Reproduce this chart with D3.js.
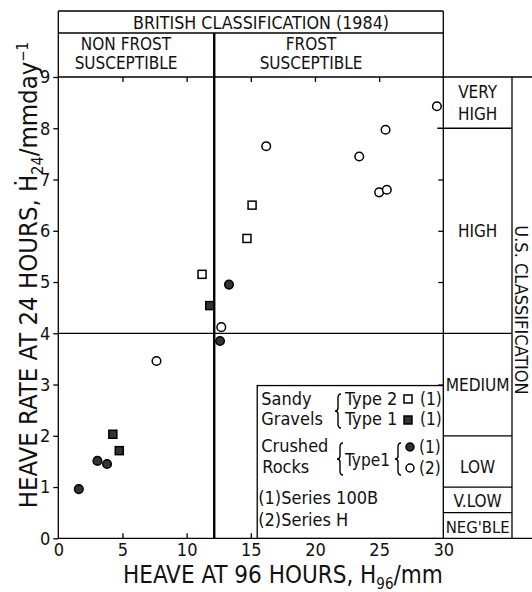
<!DOCTYPE html>
<html>
<head>
<meta charset="utf-8">
<script src="https://cdn.jsdelivr.net/npm/d3@7"></script>
<style>
  body { margin: 0; background: #fff; }
  svg text { font-family: "DejaVu Sans Condensed", "DejaVu Sans", sans-serif; font-stretch: condensed; fill: #111; }
</style>
</head>
<body>
<div id="chart"></div>
<script>
// chart size
var chart_width = 532;
var chart_height = 592;

// data: [heave at 96 h (mm), heave rate at 24 h (mm/day)]
var sandyType2 = [[11.2, 5.15], [14.7, 5.85], [15.1, 6.5]];
var sandyType1 = [[11.8, 4.54], [4.25, 2.03], [4.75, 1.71]];
var crushed100B = [[13.3, 4.95], [12.6, 3.85], [3.05, 1.51], [3.8, 1.45], [1.6, 0.96]];
var crushedH = [[12.7, 4.12], [7.65, 3.46], [16.2, 7.65], [23.45, 7.45], [25.5, 7.97], [29.5, 8.43], [25.0, 6.75], [25.6, 6.8]];

var xTicks = [0, 5, 10, 15, 20, 25, 30];
var yTicks = [0, 1, 2, 3, 4, 5, 6, 7, 8, 9];

// british classification boundary (heave at 96h) and frost limit (heave rate)
var britishLimit = 12.15;
var usBounds = [0, 0.5, 1, 2, 4, 8, 9];
var usLabels = [["NEG'BLE"], ["V.LOW"], ["LOW"], ["MEDIUM"], ["HIGH"], ["VERY", "HIGH"]];
var usLabelY = [0.22, 0.72, 1.4, 3.0, 6.0, 8.5];

var x = d3.scaleLinear().domain([0, 30]).range([58.3, 443.3]);
var y = d3.scaleLinear().domain([0, 9]).range([538.3, 77]);

var svg = d3.select("#chart").append("svg")
  .attr("width", chart_width)
  .attr("height", chart_height);

var headTop = 11, headMid = 33;
var colRight = 512;

function line(x1, y1, x2, y2, w) {
  svg.append("line")
    .attr("x1", x1).attr("y1", y1).attr("x2", x2).attr("y2", y2)
    .attr("stroke", "#000").attr("stroke-width", w || 1.3);
}

// frame
line(x(0), headTop, x(0), y(0));
line(x(30), headTop, x(30), y(0));
line(x(0), headTop, x(30), headTop);
line(x(0), headMid, x(30), headMid);
line(x(0), y(9), chart_width, y(9));
line(x(0), y(0), chart_width, y(0));
line(colRight, y(9), colRight, y(0));
line(x(0), y(4), colRight, y(4));
line(x(britishLimit), headMid, x(britishLimit), y(0), 2.4);

// US classification bands
usBounds.slice(1, -1).forEach(function(b) {
  if (b !== 4) line(x(30) - 6, y(b), colRight, y(b));
});

// axes
svg.append("g").attr("transform", "translate(" + x(0) + ",0)")
  .call(d3.axisLeft(y).tickValues(yTicks).tickSize(5).tickPadding(3))
  .call(function(g) { g.select(".domain").remove(); });

svg.append("g").attr("transform", "translate(0," + y(0) + ")")
  .call(d3.axisBottom(x).tickValues(xTicks).tickSize(0).tickPadding(5))
  .call(function(g) { g.select(".domain").remove(); });

// inward ticks
svg.append("g").attr("transform", "translate(0," + y(0) + ")")
  .call(d3.axisTop(x).tickValues([5, 10, 15, 20, 25]).tickSize(5).tickFormat(""))
  .call(function(g) { g.select(".domain").remove(); });
svg.append("g").attr("transform", "translate(0," + y(9) + ")")
  .call(d3.axisBottom(x).tickValues([5, 10, 15, 20, 25]).tickSize(5).tickFormat(""))
  .call(function(g) { g.select(".domain").remove(); });
svg.append("g").attr("transform", "translate(" + x(30) + ",0)")
  .call(d3.axisLeft(y).tickValues([3, 5, 6, 7]).tickSize(5).tickFormat(""))
  .call(function(g) { g.select(".domain").remove(); });

svg.selectAll(".tick line").attr("stroke", "#000").attr("stroke-width", 1.3);
svg.selectAll(".tick text").style("font-size", "18px").attr("fill", "#111");

// header texts
function txt(tx, ty, s, size, anchor) {
  return svg.append("text").attr("x", tx).attr("y", ty)
    .attr("text-anchor", anchor || "middle")
    .style("font-size", (size || 17) + "px").text(s);
}
txt(261, 29, "BRITISH CLASSIFICATION (1984)").attr("textLength", 256).attr("lengthAdjust", "spacingAndGlyphs");
txt(126, 50, "NON FROST");
txt(126, 69, "SUSCEPTIBLE");
txt(311, 50, "FROST");
txt(311, 69, "SUSCEPTIBLE");

// US labels
usLabels.forEach(function(lines, i) {
  lines.forEach(function(s, j) {
    var t = txt((x(30) + colRight) / 2, y(usLabelY[i]) + 6 + (j - (lines.length - 1) / 2) * 22, s);
    if (s === "MEDIUM") t.attr("textLength", 64).attr("lengthAdjust", "spacingAndGlyphs");
    if (s === "NEG'BLE") t.attr("textLength", 64).attr("lengthAdjust", "spacingAndGlyphs").style("font-size", "16px");
  });
});

svg.append("text")
  .attr("transform", "translate(515,310) rotate(90)")
  .attr("text-anchor", "middle")
  .style("font-size", "18px")
  .text("U.S. CLASSIFICATION");

// legend box
svg.append("rect")
  .attr("x", x(15.5)).attr("y", y(2.98))
  .attr("width", x(30) - x(15.5)).attr("height", y(0) - y(2.98))
  .attr("fill", "#fff").attr("stroke", "#000").attr("stroke-width", 1.3);

var lx = x(15.5) + 4;
txt(lx, 405, "Sandy", 18, "start");
txt(lx, 425, "Gravels", 18, "start");
txt(lx, 452, "Crushed", 18, "start");
txt(lx + 1, 473, "Rocks", 18, "start");
txt(lx - 3, 504, "(1)Series  100B", 18, "start");
txt(lx - 3, 526, "(2)Series  H", 18, "start");
txt(345, 405, "Type 2", 18, "start");
txt(345, 425, "Type 1", 18, "start");
txt(345, 466, "Type1", 18, "start").attr("textLength", 45).attr("lengthAdjust", "spacingAndGlyphs");
txt(420, 405, "(1)", 17, "start");
txt(420, 425, "(1)", 17, "start");
txt(419, 453, "(1)", 17, "start");
txt(419, 474, "(2)", 17, "start");

// curly braces
function brace(cx, y1, y2) {
  var ym = (y1 + y2) / 2;
  var p = d3.path();
  p.moveTo(cx + 3, y1);
  p.quadraticCurveTo(cx, y1, cx, y1 + 4);
  p.lineTo(cx, ym - 3);
  p.quadraticCurveTo(cx, ym, cx - 3, ym);
  p.quadraticCurveTo(cx, ym, cx, ym + 3);
  p.lineTo(cx, y2 - 4);
  p.quadraticCurveTo(cx, y2, cx + 3, y2);
  svg.append("path").attr("d", p.toString())
    .attr("fill", "none").attr("stroke", "#000").attr("stroke-width", 1.4);
}
brace(338, 394, 428);
brace(340, 443, 475);
brace(398, 443, 475);

// markers
function squares(data, fill) {
  svg.append("g").selectAll("rect").data(data).enter().append("rect")
    .attr("x", function(d) { return x(d[0]) - 4; })
    .attr("y", function(d) { return y(d[1]) - 4; })
    .attr("width", 8).attr("height", 8)
    .attr("fill", fill).attr("stroke", "#000").attr("stroke-width", 1.5);
}
function circles(data, fill) {
  svg.append("g").selectAll("circle").data(data).enter().append("circle")
    .attr("cx", function(d) { return x(d[0]); })
    .attr("cy", function(d) { return y(d[1]); })
    .attr("r", 4.3)
    .attr("fill", fill).attr("stroke", "#000").attr("stroke-width", 1.5);
}
squares(sandyType2, "#fff");
squares(sandyType1, "#333");
circles(crushed100B, "#333");
circles(crushedH, "#fff");

// legend symbols
svg.append("rect").attr("x", 404).attr("y", 395).attr("width", 8).attr("height", 8)
  .attr("fill", "#fff").attr("stroke", "#000").attr("stroke-width", 1.5);
svg.append("rect").attr("x", 404).attr("y", 416).attr("width", 8).attr("height", 8)
  .attr("fill", "#333").attr("stroke", "#000").attr("stroke-width", 1.5);
svg.append("circle").attr("cx", 410).attr("cy", 447).attr("r", 4)
  .attr("fill", "#333").attr("stroke", "#000").attr("stroke-width", 1.5);
svg.append("circle").attr("cx", 410).attr("cy", 468).attr("r", 4)
  .attr("fill", "#fff").attr("stroke", "#000").attr("stroke-width", 1.5);

// axis titles
var xt = svg.append("text").attr("x", 123).attr("y", 583)
  .style("font-size", "24px");
xt.append("tspan").text("HEAVE AT 96 HOURS, H");
xt.append("tspan").attr("dy", 6).style("font-size", "15px").text("96");
xt.append("tspan").attr("dy", -6).text("/mm");

var yt = svg.append("text")
  .attr("transform", "translate(37,275) rotate(-90)")
  .attr("text-anchor", "middle")
  .style("font-size", "25.5px");
yt.append("tspan").text("HEAVE RATE AT 24 HOURS, \u1E22");
yt.append("tspan").attr("dy", 6).style("font-size", "16px").text("24");
yt.append("tspan").attr("dy", -6).text("/mmday");
yt.append("tspan").attr("dy", -9).style("font-size", "15px").text("\u22121");
</script>
</body>
</html>
